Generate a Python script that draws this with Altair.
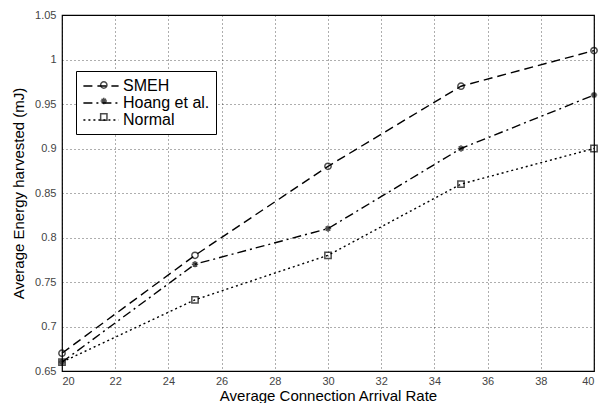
import altair as alt
import pandas as pd

x_vals = [20, 25, 30, 35, 40]
smeh = [0.67, 0.78, 0.88, 0.97, 1.01]
hoang = [0.66, 0.77, 0.81, 0.90, 0.96]
normal = [0.66, 0.73, 0.78, 0.86, 0.90]
series_names = ["SMEH", "Hoang et al.", "Normal"]
marker_names = [n + " " for n in series_names]

rows = []
for name, mname, vals in zip(series_names, marker_names, [smeh, hoang, normal]):
    for x, y in zip(x_vals, vals):
        rows.append({"x": x, "y": y, "series": name, "marker": mname})
df = pd.DataFrame(rows)

asterisk = "M0,-1L0,1M-1,0L1,0M-0.7,-0.7L0.7,0.7M-0.7,0.7L0.7,-0.7"
dash_scale = alt.Scale(domain=series_names, range=[[9, 5], [9, 4, 2, 4], [2, 3]])
shape_scale = alt.Scale(domain=marker_names, range=["circle", asterisk, "square"])

xenc = alt.X("x:Q", scale=alt.Scale(domain=[20, 40], nice=False),
             axis=alt.Axis(values=list(range(20, 41, 2)), title="Average Connection Arrival Rate"))
yenc = alt.Y("y:Q", scale=alt.Scale(domain=[0.65, 1.05], nice=False, zero=False),
             axis=alt.Axis(values=[0.65, 0.7, 0.75, 0.8, 0.85, 0.9, 0.95, 1.0, 1.05], format="~g",
                           title="Average Energy harvested (mJ)"))

line_legend = alt.Legend(title=None, orient="none", legendX=14, legendY=56,
                         strokeColor="black", fillColor="white", padding=6,
                         labelFont="Liberation Sans", labelFontSize=16, labelColor="black",
                         labelOffset=13, symbolOffset=10,
                         symbolType="M-2.2,0L2.2,0", symbolSize=256, symbolStrokeWidth=1.3,
                         symbolStrokeColor="black", rowPadding=0)
marker_legend = alt.Legend(title=None, orient="none", legendX=14, legendY=56, padding=6,
                           labelExpr="''", labelFontSize=16, symbolOffset=13.8,
                           symbolSize=40, symbolStrokeWidth=1.5, symbolFillColor="white",
                           symbolStrokeColor="black", rowPadding=0)

lines = alt.Chart(df).mark_line(color="black", strokeWidth=1.4).encode(
    x=xenc, y=yenc,
    strokeDash=alt.StrokeDash("series:N", scale=dash_scale, legend=line_legend, sort=series_names),
)
points = alt.Chart(df).mark_point(color="black", size=40, strokeWidth=1.5, filled=False).encode(
    x=xenc, y=yenc,
    shape=alt.Shape("marker:N", scale=shape_scale, legend=marker_legend, sort=marker_names),
)

chart = alt.layer(lines, points).properties(
    width=532, height=356,
    autosize=alt.AutoSizeParams(type="none"),
    padding={"left": 62, "top": 15, "right": 14, "bottom": 32},
    background="white",
).configure_view(stroke="black", strokeWidth=1.2).configure_axis(
    grid=True, gridColor="black", gridDash=[1, 3], gridWidth=0.8, gridOpacity=0.8,
    domain=False, ticks=False,
    labelFont="Liberation Sans", labelFontSize=11, labelColor="#444444",
    titleFont="Liberation Sans", titleFontSize=15, titleFontWeight="normal", titleColor="black",
).configure_axisX(labelPadding=4, titlePadding=2).configure_axisY(labelPadding=6, titlePadding=8)

chart.save("out.html", embed_options={"renderer": "svg", "actions": False})
